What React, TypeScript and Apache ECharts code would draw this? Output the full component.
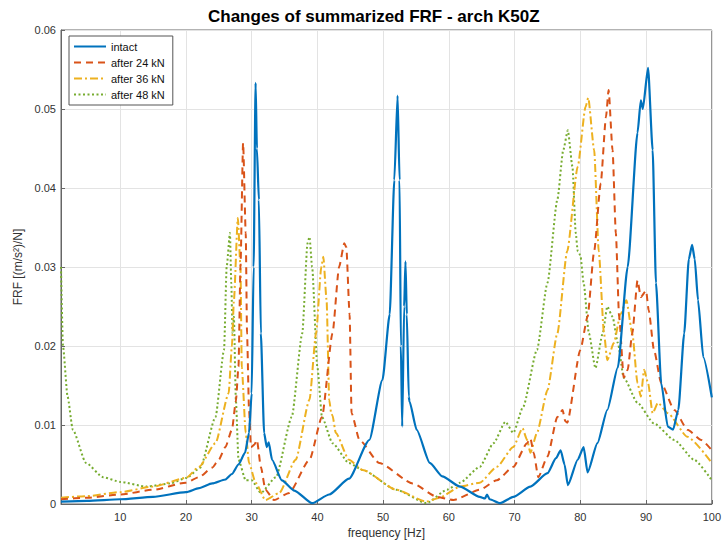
import React, { useEffect, useRef } from "react";
import * as echarts from "echarts";

const titleText = "Changes of summarized FRF - arch K50Z";
const seriesNames = ["intact", "after 24 kN", "after 36 kN", "after 48 kN"];
const xTicks = [10, 20, 30, 40, 50, 60, 70, 80, 90, 100];

const intactFreq = [1, 5, 10, 15, 20, 22, 24, 26, 27, 28, 29, 29.6, 30.0, 30.3, 30.6, 30.8, 31.1, 31.4, 31.9, 32.3, 32.6, 33.1, 34.6, 36.5, 39.2, 41.8, 44.8, 47.9, 49.9, 51.0, 51.7, 52.2, 52.5, 52.7, 52.9, 53.2, 53.4, 53.6, 53.9, 54.0, 55.1, 57.1, 59.0, 61.7, 64.7, 65.5, 65.8, 66.2, 67.8, 69.8, 72.4, 75.0, 76.3, 77.0, 77.6, 78.1, 79.6, 80.5, 81.1, 82.6, 84.1, 85.7, 87.2, 88.7, 89.2, 89.5, 90.3, 91.0, 91.5, 92.3, 93.3, 94.1, 94.9, 95.8, 96.5, 97.0, 97.4, 97.9, 98.7, 100];
const intactFRF = [0.0003, 0.0004, 0.0006, 0.0009, 0.0015, 0.002, 0.0026, 0.0031, 0.0038, 0.005, 0.0065, 0.009, 0.014, 0.03, 0.0533, 0.045, 0.0385, 0.0216, 0.009, 0.0072, 0.0078, 0.0056, 0.003, 0.0017, 0.0001, 0.0012, 0.0032, 0.0081, 0.0157, 0.024, 0.041, 0.0517, 0.041, 0.02, 0.0098, 0.025, 0.0307, 0.024, 0.0136, 0.013, 0.0094, 0.0052, 0.0035, 0.0022, 0.0009, 0.0007, 0.0012, 0.0006, 0.0001, 0.0009, 0.0022, 0.0039, 0.0058, 0.0068, 0.005, 0.0024, 0.0056, 0.0072, 0.004, 0.0077, 0.0119, 0.0173, 0.030, 0.047, 0.0511, 0.050, 0.0552, 0.0448, 0.028, 0.0153, 0.0098, 0.0094, 0.0119, 0.0216, 0.031, 0.0328, 0.031, 0.0258, 0.0186, 0.0135];

const kn24Freq = [1, 5, 10, 15, 20, 22, 24, 25, 26, 27, 27.6, 28.0, 28.3, 28.7, 29.1, 29.3, 29.6, 29.9, 30.4, 30.8, 31.4, 32.1, 33.4, 35.7, 38.8, 40.7, 42.3, 43.3, 44.1, 44.4, 44.9, 45.2, 46.4, 49.4, 54.5, 58.2, 60.7, 64.7, 67.3, 69.8, 71.9, 72.4, 72.9, 73.6, 75.0, 76.5, 77.3, 77.7, 78.0, 80.0, 81.1, 82.1, 83.1, 83.9, 84.3, 84.9, 85.4, 85.9, 86.6, 87.2, 87.9, 88.7, 89.2, 90.0, 90.4, 91.2, 92.3, 94.3, 96.3, 98.4, 100];
const kn24FRF = [0.0006, 0.0008, 0.0012, 0.0018, 0.0027, 0.0034, 0.0046, 0.0056, 0.0072, 0.0094, 0.013, 0.0174, 0.030, 0.0457, 0.0343, 0.0216, 0.012, 0.0072, 0.0075, 0.0081, 0.0047, 0.0018, 0.0005, 0.0014, 0.0056, 0.011, 0.0216, 0.030, 0.033, 0.0325, 0.024, 0.0115, 0.0081, 0.0052, 0.0026, 0.0009, 0.0005, 0.0018, 0.003, 0.0047, 0.0077, 0.0083, 0.0065, 0.0034, 0.006, 0.011, 0.0119, 0.0105, 0.0103, 0.0195, 0.0237, 0.032, 0.0406, 0.049, 0.0524, 0.0448, 0.0343, 0.0237, 0.016, 0.017, 0.0216, 0.0283, 0.0262, 0.027, 0.0245, 0.0195, 0.0153, 0.0119, 0.0094, 0.0081, 0.0068];

const kn36Freq = [1, 5, 10, 15, 20, 22, 24.5, 26.5, 27.0, 27.3, 27.9, 28.3, 28.5, 29.1, 29.6, 30.6, 32.1, 34.2, 36.7, 38.8, 39.8, 40.6, 40.9, 41.4, 41.8, 42.1, 42.3, 42.8, 44.8, 46.9, 52.0, 56.6, 58.6, 61.7, 64.7, 67.3, 69.8, 71.2, 71.9, 72.4, 73.4, 75.0, 76.5, 78.0, 79.6, 80.8, 81.2, 82.1, 82.8, 83.6, 84.1, 85.1, 86.1, 87.0, 87.9, 88.7, 89.2, 89.7, 90.3, 91.0, 91.8, 93.3, 96.3, 100];
const kn36FRF = [0.0008, 0.001, 0.0015, 0.0022, 0.0033, 0.0047, 0.0077, 0.014, 0.02, 0.0258, 0.0362, 0.030, 0.0173, 0.009, 0.0052, 0.0027, 0.0005, 0.0014, 0.0056, 0.0132, 0.0216, 0.030, 0.0313, 0.0258, 0.0132, 0.0115, 0.0112, 0.009, 0.0056, 0.0043, 0.0018, 0.0003, 0.0008, 0.0022, 0.0027, 0.0047, 0.0072, 0.0096, 0.0081, 0.0065, 0.009, 0.0144, 0.0216, 0.032, 0.0427, 0.0503, 0.0514, 0.0448, 0.032, 0.0216, 0.0182, 0.0204, 0.024, 0.0258, 0.0216, 0.0153, 0.0136, 0.017, 0.0153, 0.0115, 0.0128, 0.0115, 0.0085, 0.0052];

const kn48Freq = [1, 1.3, 2.0, 2.8, 4.8, 7.4, 10, 14, 17.6, 20.1, 22.2, 24.5, 25.8, 26.2, 26.7, 26.9, 27.1, 27.3, 27.6, 28.0, 29.1, 30.0, 31.4, 33.7, 36.1, 37.7, 38.5, 38.8, 39.2, 40.0, 40.7, 42.3, 44.8, 46.9, 52.0, 56.6, 59.7, 61.7, 64.7, 66.8, 68.6, 69.8, 71.3, 73.4, 75.0, 76.5, 77.4, 78.1, 78.8, 79.3, 79.6, 80.0, 80.5, 81.3, 82.3, 83.4, 84.1, 84.9, 85.7, 86.6, 88.7, 91.2, 94.3, 97.3, 100];
const kn48FRF = [0.030, 0.02, 0.0136, 0.0094, 0.0052, 0.0034, 0.0028, 0.0022, 0.0026, 0.0033, 0.0046, 0.011, 0.0195, 0.030, 0.0343, 0.028, 0.0216, 0.0237, 0.0132, 0.0056, 0.003, 0.003, 0.0014, 0.0034, 0.011, 0.0216, 0.033, 0.0338, 0.030, 0.0173, 0.011, 0.0077, 0.0052, 0.0043, 0.0018, 0.0001, 0.0018, 0.0027, 0.0047, 0.0077, 0.0104, 0.009, 0.0123, 0.0195, 0.028, 0.0385, 0.0448, 0.0473, 0.0427, 0.0343, 0.032, 0.0315, 0.028, 0.0216, 0.0172, 0.0216, 0.025, 0.0237, 0.0204, 0.016, 0.0128, 0.0102, 0.0081, 0.0056, 0.003];

const colors = ["#0072BD", "#D95319", "#EDB120", "#77AC30"];
const font = "'Liberation Sans', Arial, Helvetica, sans-serif";

function zip(xs: number[], ys: number[]) {
  return xs.map((x, i) => [x, ys[i]]);
}

export default function App() {
  const ref = useRef<HTMLDivElement>(null);
  useEffect(() => {
    if (!ref.current) return;
    const chart = echarts.init(ref.current, null, { renderer: "svg" });
    const data = [
      zip(intactFreq, intactFRF),
      zip(kn24Freq, kn24FRF),
      zip(kn36Freq, kn36FRF),
      zip(kn48Freq, kn48FRF),
    ];
    const lineTypes: any[] = ["solid", [7, 5], [8, 3, 2, 3], [2, 2.5]];
    const widths = [2.2, 2, 2, 2];
    chart.setOption({
      animation: false,
      backgroundColor: "#ffffff",
      title: {
        text: titleText,
        left: 203,
        top: 3,
        textStyle: { fontFamily: font, fontSize: 17, fontWeight: "bold", color: "#000" },
      },
      legend: {
        orient: "vertical",
        left: 69,
        top: 36,
        padding: [5, 8, 5, 4],
        itemGap: 5,
        itemWidth: 32,
        itemHeight: 12,
        backgroundColor: "#fff",
        borderColor: "#555",
        borderWidth: 1,
        itemStyle: { opacity: 0 },
        textStyle: { fontFamily: font, fontSize: 11, color: "#111" },
        data: seriesNames,
      },
      grid: {
        left: 61,
        right: 11,
        top: 30,
        bottom: 42,
        show: true,
        borderColor: "#666",
        borderWidth: 1,
      },
      xAxis: {
        type: "value",
        min: 1,
        max: 100,
        name: "frequency [Hz]",
        nameLocation: "middle",
        nameGap: 22,
        nameTextStyle: { fontFamily: font, fontSize: 12, color: "#333" },
        axisLine: { show: true, lineStyle: { color: "#666" } },
        axisTick: { show: true, inside: true, length: 4, customValues: xTicks, lineStyle: { color: "#666" } },
        axisLabel: { customValues: xTicks, fontFamily: font, fontSize: 11, color: "#333", margin: 7 },
        splitLine: { show: true, lineStyle: { color: "#e3e3e3", width: 1 } },
      },
      yAxis: {
        type: "value",
        min: 0,
        max: 0.06,
        interval: 0.01,
        name: "FRF [(m/s²)/N]",
        nameLocation: "middle",
        nameGap: 36,
        nameRotate: 90,
        nameTextStyle: { fontFamily: font, fontSize: 12, color: "#333" },
        axisLine: { show: true, lineStyle: { color: "#666" } },
        axisTick: { show: true, inside: true, length: 4, lineStyle: { color: "#666" } },
        axisLabel: {
          fontFamily: font,
          fontSize: 11,
          color: "#333",
          margin: 5,
          formatter: (v: number) => (v === 0 ? "0" : v.toFixed(2)),
        },
        splitLine: { show: true, lineStyle: { color: "#e3e3e3", width: 1 } },
      },
      series: seriesNames.map((name, i) => ({
        name,
        type: "line",
        data: data[i],
        symbol: "none",
        showSymbol: false,
        smooth: 0.2,
        smoothMonotone: "x",
        z: 10 - i,
        lineStyle: { color: colors[i], width: widths[i], type: lineTypes[i] },
        itemStyle: { color: colors[i] },
      })),
    });
    return () => chart.dispose();
  }, []);
  return (
    <div
      ref={ref}
      style={{ position: "fixed", left: 0, top: 0, width: 724, height: 546, background: "#fff" }}
    />
  );
}
